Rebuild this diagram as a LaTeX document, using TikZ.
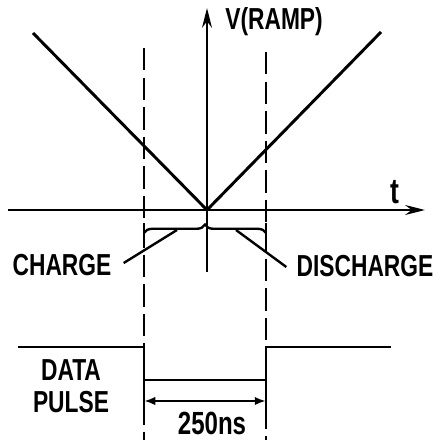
\documentclass[tikz,border=0pt]{standalone}
\usepackage{fontspec}
\setmainfont{Liberation Sans}
\usetikzlibrary{arrows.meta,calc,decorations.pathreplacing}

\begin{document}
\begin{tikzpicture}[x=0.025cm,y=-0.025cm,line width=2.1pt,
    lbl/.style={font=\fontsize{18}{19}\selectfont\bfseries,inner sep=0pt,align=center,xscale=0.9,yscale=1.2},
    guide/.style={line width=1.7pt,dash pattern=on 16pt off 5pt},
    axis/.style={-{Stealth[length=14pt,width=7pt]}}]
  \useasboundingbox (0,0) rectangle (440,440);
  % axes
  \coordinate (o)      at (207,210);
  \coordinate (vbot)   at (207,272);
  \coordinate (vtop)   at (207,8);
  \coordinate (hleft)  at (8,210);
  \coordinate (hright) at (425,210);
  \draw[axis] (vbot) -- (vtop);
  \draw[axis] (hleft) -- (hright);
  \node[lbl,anchor=west] (vlab) at (224,22) {V(RAMP)};
  \node[lbl,font=\fontsize{21}{22}\selectfont\bfseries] (tlab) at (395,192) {t};
  % ramps
  \coordinate (rl) at (33,33);
  \coordinate (rr) at (381,32);
  \draw (rl) -- (o) -- (rr);
  % guides
  \coordinate (gl1) at (144,48);  \coordinate (gl2) at (144,440);
  \coordinate (gr1) at (266,52);  \coordinate (gr2) at (266,440);
  \draw[guide] (gl1) -- (gl2);
  \draw[guide] (gr1) -- (gr2);
  % brace
  \coordinate (bl) at (144,233);
  \coordinate (br) at (266,233);
  \draw[line width=1.7pt,decorate,decoration={brace,amplitude=6pt}] (bl) -- (br);
  \draw[line width=1.7pt] (144,223) -- (144,236) (266,223) -- (266,236);
  \node[lbl] (charge) at (62,265) {CHARGE};
  \node[lbl] (discharge) at (365,266) {DISCHARGE};
  \coordinate (cb) at (177,230);
  \coordinate (db) at (236,230);
  \draw[line width=1.7pt] ($(charge.east)+(11,-2)$) -- (cb);
  \draw[line width=1.7pt] (db) -- ($(discharge.west)+(-9,1)$);
  % data pulse
  \coordinate (p0) at (18,347);
  \coordinate (p1) at (144,347);
  \coordinate (p2) at (144,380);
  \coordinate (p3) at (266,380);
  \coordinate (p4) at (266,347);
  \coordinate (p5) at (391,347);
  \draw (p0) -- (p1) -- (p2) -- (p3) -- (p4) -- (p5);
  \node[lbl] (data) at (71,386) {DATA\\PULSE};
  % width
  \coordinate (wl) at (144,401);
  \coordinate (wr) at (266,401);
  \draw[line width=1.7pt,{Latex[length=8pt,width=6pt]}-{Latex[length=8pt,width=6pt]}] (wl) -- (wr);
  \draw[line width=1.7pt] (144,391) -- (144,411) (266,391) -- (266,411);
  \node[lbl,font=\fontsize{19}{22}\selectfont\bfseries] (wlab) at (212,423) {250ns};
\end{tikzpicture}
\end{document}
